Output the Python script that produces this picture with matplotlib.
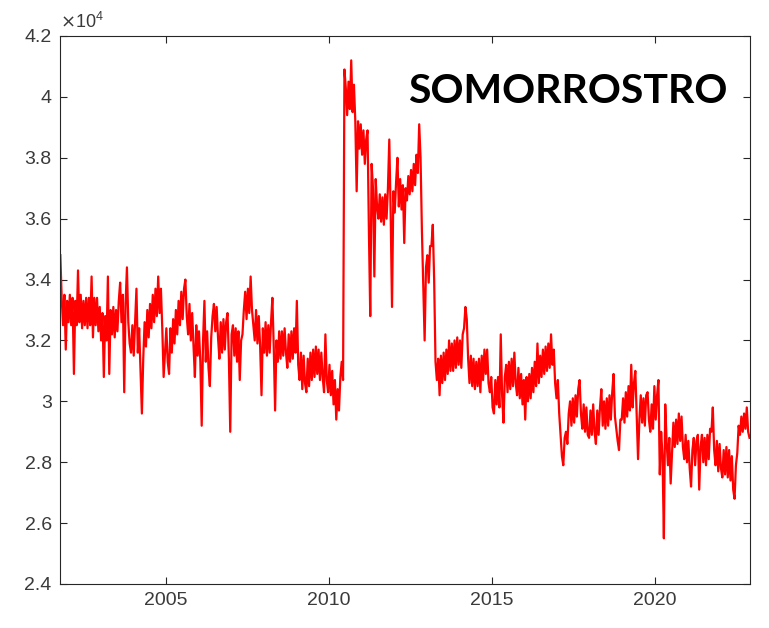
import numpy as np
import matplotlib
matplotlib.use("Agg")
import matplotlib.pyplot as plt
from matplotlib.ticker import FuncFormatter

# half-monthly readings (24 per year), values in hundreds
start_year = 2001.77
vals_2001 = [348, 334, 325, 335, 317, 333]
vals_2002 = [326, 335, 325, 334, 309, 333, 325, 343, 326, 335, 324, 333,
             325, 334, 324, 334, 325, 341, 321, 334, 325, 334, 323, 331]
vals_2003 = [320, 329, 308, 328, 320, 341, 309, 330, 322, 331, 321, 330,
             323, 333, 339, 326, 335, 303, 332, 344, 326, 319, 316, 325]
vals_2004 = [315, 326, 337, 316, 324, 310, 296, 314, 326, 318, 330, 321,
             332, 324, 335, 326, 337, 328, 341, 329, 337, 324, 308, 316]
vals_2005 = [324, 313, 309, 324, 316, 327, 319, 330, 322, 333, 325, 336,
             327, 337, 340, 328, 322, 332, 320, 329, 318, 308, 325, 315]
vals_2006 = [323, 313, 292, 320, 333, 313, 323, 311, 305, 321, 328, 332,
             323, 331, 321, 314, 326, 316, 327, 317, 326, 329, 314, 290]
vals_2007 = [322, 325, 315, 324, 313, 323, 307, 320, 322, 330, 336, 327,
             337, 329, 341, 330, 325, 320, 330, 319, 328, 318, 302, 324]
vals_2008 = [316, 326, 315, 325, 316, 326, 334, 318, 297, 320, 313, 323,
             314, 323, 315, 324, 316, 311, 322, 313, 323, 314, 324, 316]
vals_2009 = [333, 312, 307, 316, 304, 315, 306, 303, 314, 305, 316, 307,
             317, 308, 318, 309, 317, 307, 316, 308, 303, 322, 307, 303]
vals_2010 = [312, 302, 310, 299, 307, 294, 304, 297, 308, 313, 307, 409,
             403, 394, 405, 396, 412, 395, 404, 392, 369, 392, 383, 391]
vals_2011 = [381, 389, 378, 386, 389, 356, 328, 378, 370, 341, 373, 364,
             360, 368, 359, 367, 358, 368, 360, 370, 386, 362, 331, 369]
vals_2012 = [362, 372, 380, 364, 373, 363, 371, 352, 370, 366, 374, 368,
             376, 369, 378, 371, 381, 375, 391, 380, 356, 338, 320, 344]
vals_2013 = [348, 339, 351, 351, 358, 340, 313, 307, 314, 302, 315, 306,
             316, 307, 317, 309, 320, 310, 319, 310, 320, 311, 321, 312]
vals_2014 = [320, 311, 322, 324, 331, 327, 314, 306, 315, 305, 314, 304,
             313, 305, 314, 303, 315, 307, 317, 309, 317, 306, 303, 308]
vals_2015 = [298, 296, 307, 299, 308, 298, 322, 302, 293, 308, 312, 303,
             313, 304, 314, 305, 316, 306, 302, 311, 301, 309, 299, 307]
vals_2016 = [294, 308, 300, 309, 301, 311, 303, 313, 305, 319, 306, 315,
             308, 317, 309, 318, 310, 319, 311, 322, 312, 317, 306, 301]
vals_2017 = [307, 296, 289, 282, 279, 288, 290, 286, 296, 300, 292, 301,
             293, 302, 295, 304, 307, 296, 291, 299, 290, 298, 289, 288]
vals_2018 = [297, 289, 299, 290, 286, 297, 289, 298, 304, 292, 300, 291,
             301, 292, 302, 294, 303, 309, 295, 291, 287, 284, 294, 294]
vals_2019 = [301, 293, 303, 295, 305, 297, 312, 298, 306, 310, 296, 281,
             294, 302, 293, 301, 292, 302, 303, 294, 290, 299, 291, 305]
vals_2020 = [294, 302, 307, 276, 290, 282, 255, 299, 287, 279, 288, 273,
             283, 293, 285, 294, 286, 296, 287, 295, 285, 281, 289, 280]
vals_2021 = [287, 278, 272, 284, 288, 279, 287, 289, 271, 285, 289, 280,
             288, 279, 289, 281, 291, 290, 298, 284, 279, 287, 277, 286]
vals_2022 = [278, 275, 284, 276, 285, 275, 284, 274, 282, 271, 268, 279,
             283, 292, 289, 295, 290, 296, 291, 298, 290, 288]

series = np.array(vals_2001 + vals_2002 + vals_2003 + vals_2004 + vals_2005 +
                  vals_2006 + vals_2007 + vals_2008 + vals_2009 + vals_2010 +
                  vals_2011 + vals_2012 + vals_2013 + vals_2014 + vals_2015 +
                  vals_2016 + vals_2017 + vals_2018 + vals_2019 + vals_2020 +
                  vals_2021 + vals_2022) * 100.0
t = start_year + np.arange(len(series)) / 24.0

x_ticks = [2005, 2010, 2015, 2020]
y_ticks = [24000, 26000, 28000, 30000, 32000, 34000, 36000, 38000, 40000, 42000]

axcol = "#262626"
plt.rcParams['font.family'] = ['Liberation Sans', 'DejaVu Sans']

fig = plt.figure(figsize=(7.69, 6.28), dpi=100)
ax = fig.add_axes([60 / 769, 44 / 628, 690 / 769, 548 / 628])
ax.plot(t, series, color="#ff0000", linewidth=1.6)

ax.set_xlim(2001.76, 2022.91)
ax.set_ylim(24000, 42000)
ax.set_xticks(x_ticks)
ax.set_yticks(y_ticks)
ax.yaxis.set_major_formatter(FuncFormatter(lambda v, p: "%g" % (v / 1e4)))
ax.tick_params(direction="in", length=4.8, width=0.8, colors=axcol,
               labelsize=14, top=True, right=True, pad=6)
ax.tick_params(labelcolor="#3a3a3a")
for s in ax.spines.values():
    s.set_color(axcol)
    s.set_linewidth(0.8)

ax.text(0.0, 1.008, r"$\times\mathregular{10^{4}}$", transform=ax.transAxes,
        ha="left", va="bottom", fontsize=13, color="#3a3a3a")
ax.text(0.968, 0.898, "SOMORROSTRO", transform=ax.transAxes, ha="right",
        va="center", fontsize=29.5, fontweight="bold", family="Lato",
        color="black")

fig.savefig("out.png", dpi=100)
